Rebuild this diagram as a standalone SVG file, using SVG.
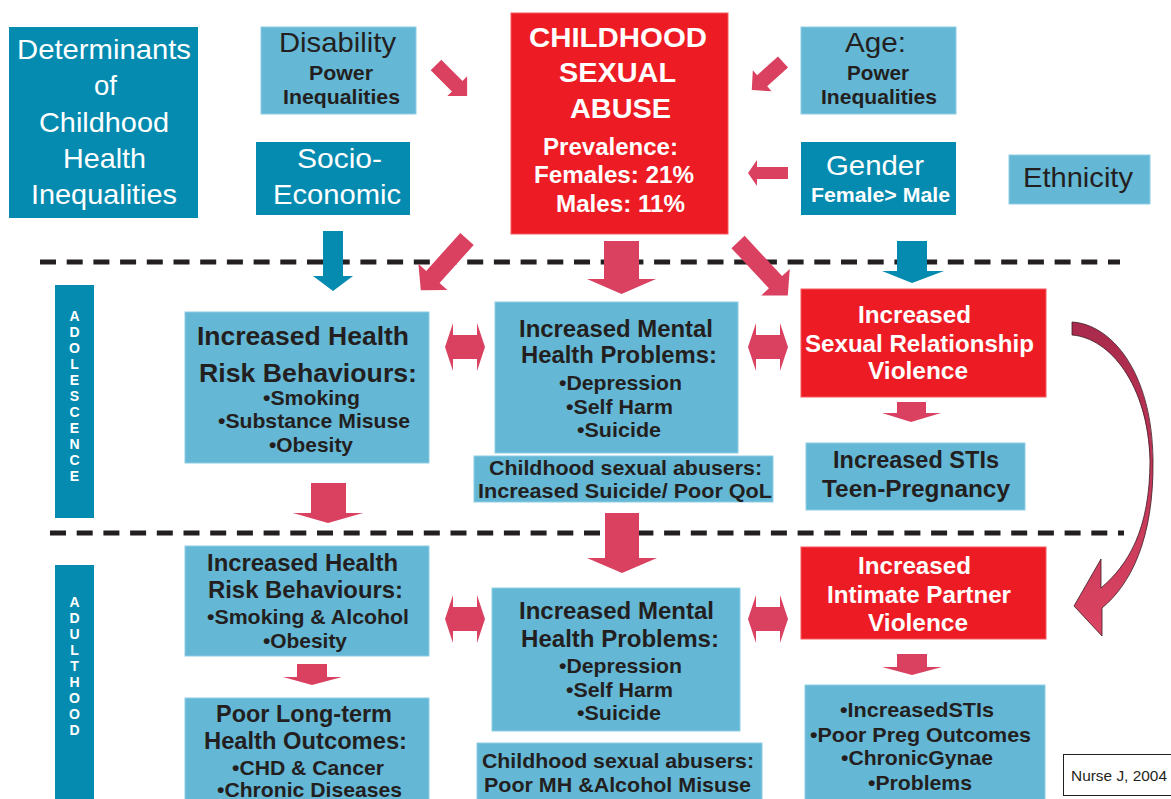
<svg xmlns="http://www.w3.org/2000/svg" width="1171" height="799" viewBox="0 0 1171 799">
<style>
text{font-family:"Liberation Sans",Arial,sans-serif;}
.tb{fill:#058BB0;}
.lb{fill:#64B7D5;stroke:#8ECDE4;stroke-width:1;}
.rb{fill:#ED1C24;stroke:#F25A5F;stroke-width:1;}
.ar{fill:#DA4160;}
.ta{fill:#058BB0;}
.w{fill:#FFFFFF;}
.d{fill:#231F20;}
.b{font-weight:bold;}
.dash{stroke:#231F20;stroke-width:5;stroke-dasharray:16 10.7;fill:none;}
.vt{font-weight:bold;font-size:14px;fill:#FFFFFF;text-anchor:middle;}
</style>
<defs>
<linearGradient id="cg" x1="0" y1="0" x2="0" y2="1">
<stop offset="0" stop-color="#A82A4C"/>
<stop offset="1" stop-color="#DC4462"/>
</linearGradient>
<polygon id="dbl" points="0,0 8,-24 8,-12 32,-12 32,-24 40,0 32,24 32,12 8,12 8,24"/>
</defs>
<rect width="1171" height="799" fill="#FFFFFF"/>

<g id="dividers">
<line class="dash" x1="40" y1="262" x2="1120" y2="262"/>
<line class="dash" x1="50" y1="533" x2="1124" y2="533"/>
</g>

<g id="determinants">
<rect class="tb" x="9" y="27" width="189" height="191"/>
<g class="w" font-size="28">
<text x="17" y="59" textLength="174" lengthAdjust="spacingAndGlyphs">Determinants</text>
<text x="94" y="95" textLength="23" lengthAdjust="spacingAndGlyphs">of</text>
<text x="39" y="132" textLength="130" lengthAdjust="spacingAndGlyphs">Childhood</text>
<text x="63" y="168" textLength="83" lengthAdjust="spacingAndGlyphs">Health</text>
<text x="31" y="204" textLength="146" lengthAdjust="spacingAndGlyphs">Inequalities</text>
</g>
</g>

<g id="disability">
<rect class="lb" x="261" y="27" width="155" height="87"/>
<text class="d" font-size="28" x="279" y="52" textLength="117" lengthAdjust="spacingAndGlyphs">Disability</text>
<text class="d b" font-size="21" x="309" y="80" textLength="64" lengthAdjust="spacingAndGlyphs">Power</text>
<text class="d b" font-size="21" x="283" y="104" textLength="117" lengthAdjust="spacingAndGlyphs">Inequalities</text>
</g>

<g id="socio-economic">
<rect class="tb" x="256" y="142" width="154" height="73"/>
<text class="w" font-size="28" x="297" y="168" textLength="85" lengthAdjust="spacingAndGlyphs">Socio-</text>
<text class="w" font-size="28" x="273" y="204" textLength="128" lengthAdjust="spacingAndGlyphs">Economic</text>
</g>

<g id="csa">
<rect class="rb" x="511" y="13" width="217" height="221"/>
<g class="w b">
<text font-size="28" x="529" y="47" textLength="178" lengthAdjust="spacingAndGlyphs">CHILDHOOD</text>
<text font-size="28" x="559" y="82" textLength="117" lengthAdjust="spacingAndGlyphs">SEXUAL</text>
<text font-size="28" x="570" y="118" textLength="101" lengthAdjust="spacingAndGlyphs">ABUSE</text>
<text font-size="23" x="543" y="155" textLength="135" lengthAdjust="spacingAndGlyphs">Prevalence:</text>
<text font-size="23" x="534" y="183" textLength="160" lengthAdjust="spacingAndGlyphs">Females: 21%</text>
<text font-size="23" x="556" y="212" textLength="129" lengthAdjust="spacingAndGlyphs">Males: 11%</text>
</g>
</g>

<g id="age">
<rect class="lb" x="801" y="27" width="155" height="87"/>
<text class="d" font-size="28" x="845" y="52" textLength="61" lengthAdjust="spacingAndGlyphs">Age:</text>
<text class="d b" font-size="21" x="847" y="80" textLength="62" lengthAdjust="spacingAndGlyphs">Power</text>
<text class="d b" font-size="21" x="821" y="104" textLength="116" lengthAdjust="spacingAndGlyphs">Inequalities</text>
</g>

<g id="gender">
<rect class="tb" x="801" y="142" width="155" height="73"/>
<text class="w" font-size="28" x="826" y="175" textLength="98" lengthAdjust="spacingAndGlyphs">Gender</text>
<text class="w b" font-size="20" x="811" y="202" textLength="139" lengthAdjust="spacingAndGlyphs">Female&gt; Male</text>
</g>

<g id="ethnicity">
<rect class="lb" x="1009" y="155" width="141" height="49"/>
<text class="d" font-size="28" x="1023" y="187" textLength="110" lengthAdjust="spacingAndGlyphs">Ethnicity</text>
</g>

<g id="adolescence-label">
<rect class="tb" x="55" y="285" width="39" height="233"/>
<text class="vt"><tspan x="74.5" y="321">A</tspan><tspan x="74.5" y="337">D</tspan><tspan x="74.5" y="353">O</tspan><tspan x="74.5" y="369">L</tspan><tspan x="74.5" y="385">E</tspan><tspan x="74.5" y="401">S</tspan><tspan x="74.5" y="417">C</tspan><tspan x="74.5" y="433">E</tspan><tspan x="74.5" y="449">N</tspan><tspan x="74.5" y="465">C</tspan><tspan x="74.5" y="481">E</tspan></text>
</g>

<g id="adulthood-label">
<rect class="tb" x="55" y="565" width="39" height="240"/>
<text class="vt"><tspan x="74.5" y="607">A</tspan><tspan x="74.5" y="623">D</tspan><tspan x="74.5" y="639">U</tspan><tspan x="74.5" y="655">L</tspan><tspan x="74.5" y="671">T</tspan><tspan x="74.5" y="687">H</tspan><tspan x="74.5" y="703">O</tspan><tspan x="74.5" y="719">O</tspan><tspan x="74.5" y="735">D</tspan></text>
</g>

<g id="adol-risk">
<rect class="lb" x="185" y="312" width="244" height="151"/>
<g class="d b">
<text font-size="26" x="197" y="345" textLength="212" lengthAdjust="spacingAndGlyphs">Increased Health</text>
<text font-size="26" x="199" y="382" textLength="218" lengthAdjust="spacingAndGlyphs">Risk Behaviours:</text>
<text font-size="21" x="263" y="405" textLength="97" lengthAdjust="spacingAndGlyphs">•Smoking</text>
<text font-size="21" x="218" y="428" textLength="192" lengthAdjust="spacingAndGlyphs">•Substance Misuse</text>
<text font-size="21" x="269" y="452" textLength="84" lengthAdjust="spacingAndGlyphs">•Obesity</text>
</g>
</g>

<g id="adol-mental">
<rect class="lb" x="495" y="302" width="243" height="151"/>
<g class="d b">
<text font-size="24" x="519" y="337" textLength="194" lengthAdjust="spacingAndGlyphs">Increased Mental</text>
<text font-size="24" x="521" y="363" textLength="196" lengthAdjust="spacingAndGlyphs">Health Problems:</text>
<text font-size="21" x="559" y="390" textLength="123" lengthAdjust="spacingAndGlyphs">•Depression</text>
<text font-size="21" x="566" y="414" textLength="107" lengthAdjust="spacingAndGlyphs">•Self Harm</text>
<text font-size="21" x="577" y="437" textLength="84" lengthAdjust="spacingAndGlyphs">•Suicide</text>
</g>
</g>

<g id="adol-abusers">
<rect class="lb" x="474" y="456" width="299" height="46"/>
<g class="d b" font-size="20">
<text x="489" y="475" textLength="273" lengthAdjust="spacingAndGlyphs">Childhood sexual abusers:</text>
<text x="478" y="498" textLength="294" lengthAdjust="spacingAndGlyphs">Increased Suicide/ Poor QoL</text>
</g>
</g>

<g id="adol-violence">
<rect class="rb" x="801" y="289" width="245" height="108"/>
<g class="w b">
<text font-size="23" x="858" y="323" textLength="113" lengthAdjust="spacingAndGlyphs">Increased</text>
<text font-size="24" x="805" y="352" textLength="229" lengthAdjust="spacingAndGlyphs">Sexual Relationship</text>
<text font-size="23" x="868" y="379" textLength="100" lengthAdjust="spacingAndGlyphs">Violence</text>
</g>
</g>

<g id="adol-stis">
<rect class="lb" x="806" y="443" width="219" height="67"/>
<g class="d b" font-size="23">
<text x="833" y="468" textLength="166" lengthAdjust="spacingAndGlyphs">Increased STIs</text>
<text x="822" y="497" textLength="188" lengthAdjust="spacingAndGlyphs">Teen-Pregnancy</text>
</g>
</g>

<g id="adult-risk">
<rect class="lb" x="185" y="546" width="244" height="110"/>
<g class="d b">
<text font-size="24" x="207" y="571" textLength="191" lengthAdjust="spacingAndGlyphs">Increased Health</text>
<text font-size="24" x="208" y="598" textLength="195" lengthAdjust="spacingAndGlyphs">Risk Behaviours:</text>
<text font-size="21" x="207" y="624" textLength="202" lengthAdjust="spacingAndGlyphs">•Smoking &amp; Alcohol</text>
<text font-size="21" x="263" y="648" textLength="84" lengthAdjust="spacingAndGlyphs">•Obesity</text>
</g>
</g>

<g id="adult-outcomes">
<rect class="lb" x="185" y="698" width="244" height="110"/>
<g class="d b">
<text font-size="24" x="216" y="722" textLength="176" lengthAdjust="spacingAndGlyphs">Poor Long-term</text>
<text font-size="24" x="204" y="749" textLength="203" lengthAdjust="spacingAndGlyphs">Health Outcomes:</text>
<text font-size="21" x="232" y="775" textLength="152" lengthAdjust="spacingAndGlyphs">•CHD &amp; Cancer</text>
<text font-size="21" x="217" y="797" textLength="185" lengthAdjust="spacingAndGlyphs">•Chronic Diseases</text>
</g>
</g>

<g id="adult-mental">
<rect class="lb" x="492" y="588" width="248" height="143"/>
<g class="d b">
<text font-size="24" x="519" y="619" textLength="195" lengthAdjust="spacingAndGlyphs">Increased Mental</text>
<text font-size="24" x="521" y="647" textLength="198" lengthAdjust="spacingAndGlyphs">Health Problems:</text>
<text font-size="21" x="559" y="673" textLength="123" lengthAdjust="spacingAndGlyphs">•Depression</text>
<text font-size="21" x="566" y="697" textLength="107" lengthAdjust="spacingAndGlyphs">•Self Harm</text>
<text font-size="21" x="577" y="720" textLength="84" lengthAdjust="spacingAndGlyphs">•Suicide</text>
</g>
</g>

<g id="adult-abusers">
<rect class="lb" x="477" y="743" width="285" height="62"/>
<g class="d b" font-size="21">
<text x="482" y="768" textLength="272" lengthAdjust="spacingAndGlyphs">Childhood sexual abusers:</text>
<text x="484" y="792" textLength="267" lengthAdjust="spacingAndGlyphs">Poor MH &amp;Alcohol Misuse</text>
</g>
</g>

<g id="adult-violence">
<rect class="rb" x="801" y="547" width="245" height="92"/>
<g class="w b" font-size="23">
<text x="858" y="574" textLength="113" lengthAdjust="spacingAndGlyphs">Increased</text>
<text x="827" y="603" textLength="184" lengthAdjust="spacingAndGlyphs">Intimate Partner</text>
<text x="868" y="631" textLength="100" lengthAdjust="spacingAndGlyphs">Violence</text>
</g>
</g>

<g id="adult-stis">
<rect class="lb" x="805" y="685" width="240" height="120"/>
<g class="d b" font-size="21">
<text x="840" y="717" textLength="154" lengthAdjust="spacingAndGlyphs">•IncreasedSTIs</text>
<text x="810" y="742" textLength="221" lengthAdjust="spacingAndGlyphs">•Poor Preg Outcomes</text>
<text x="841" y="765" textLength="152" lengthAdjust="spacingAndGlyphs">•ChronicGynae</text>
<text x="868" y="790" textLength="104" lengthAdjust="spacingAndGlyphs">•Problems</text>
</g>
</g>

<g id="citation">
<rect x="1063.5" y="754.5" width="112" height="41" fill="#FFFFFF" stroke="#231F20" stroke-width="1"/>
<text class="d" font-size="15" x="1071" y="781" textLength="96" lengthAdjust="spacingAndGlyphs">Nurse J, 2004</text>
</g>

<g id="connectors">
<polygon class="ar" transform="translate(436,65) rotate(45)" points="0,-7.5 30,-7.5 30,-14 44,0 30,14 30,7.5 0,7.5"/>
<polygon class="ar" transform="translate(783,62) rotate(138)" points="0,-7.5 28,-7.5 28,-14 42,0 28,14 28,7.5 0,7.5"/>
<polygon class="ar" points="788,167 757,167 757,160 748,173 757,186 757,179 788,179"/>
<polygon class="ar" transform="translate(467,239) rotate(132)" points="0,-9 51,-9 51,-19.5 69,0 51,19.5 51,9 0,9"/>
<polygon class="ar" transform="translate(738,242) rotate(47)" points="0,-9 55,-9 55,-19.5 73,0 55,19.5 55,9 0,9"/>
<polygon class="ar" points="604,241 639,241 639,279 656,279 621.5,294 587,279 604,279"/>
<polygon class="ta" points="323,231 343,231 343,276 353,276 333,291 313,276 323,276"/>
<polygon class="ta" points="897,241 927,241 927,271 944,271 912,283 882,271 897,271"/>
<use href="#dbl" class="ar" x="445" y="347"/>
<use href="#dbl" class="ar" x="748" y="347"/>
<use href="#dbl" class="ar" x="445" y="619"/>
<use href="#dbl" class="ar" x="748" y="619"/>
<polygon class="ar" points="897,402 926,402 926,413 941,413 911,422 882,413 897,413"/>
<polygon class="ar" points="311,483 346,483 346,513 363,513 328,523 293,513 311,513"/>
<polygon class="ar" points="605,513 639,513 639,558 657,558 622,573 587,558 605,558"/>
<polygon class="ar" points="297,664 327,664 327,677 342,677 312,685 283,677 297,677"/>
<polygon class="ar" points="897,654 927,654 927,667 942,667 912,675 882,667 897,667"/>
<path fill="url(#cg)" stroke="#3B1B24" stroke-width="0.8" d="M1072,322 C1110,324 1152,370 1153,460 C1154,540 1130,585 1102,608 L1102,636 L1074,606 L1101,559 L1101,588 C1128,565 1150,530 1150,460 C1148,385 1110,338 1072,335 Z"/>
</g>
</svg>
